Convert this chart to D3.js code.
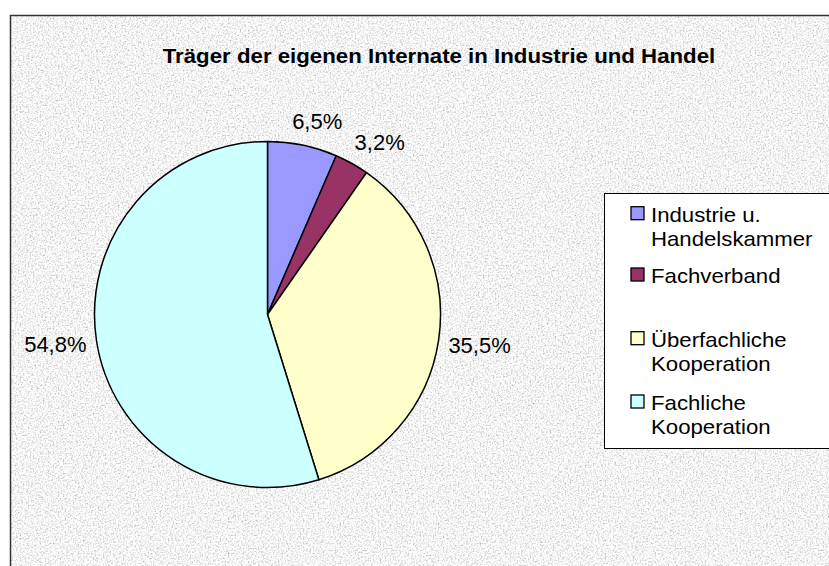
<!DOCTYPE html>
<html lang="de">
<head>
  <meta charset="UTF-8">
  <title>Träger der eigenen Internate</title>
  <script src="https://d3js.org/d3.v7.min.js"></script>
  <style>
    body { margin: 0; background: #fff; }
    svg { display: block; font-family: "Liberation Sans", Arial, sans-serif; }
  </style>
</head>
<body>
  <svg width="829" height="566"></svg>
  <script>
    const categories = ["Industrie u. Handelskammer", "Fachverband", "Überfachliche Kooperation", "Fachliche Kooperation"];
    const values = [6.5, 3.2, 35.5, 54.8];
    const valueLabels = ["6,5%", "3,2%", "35,5%", "54,8%"];
    // legend text lines (as wrapped in the original)
    const legendLines = [["Industrie u.", "Handelskammer"], ["Fachverband"], ["Überfachliche", "Kooperation"], ["Fachliche", "Kooperation"]];
    const colors = ["#9999FF", "#993366", "#FFFFCC", "#CCFFFF"];

    const svg = d3.select("svg");

    // granite-like background
    const defs = svg.append("defs");
    const filt = defs.append("filter").attr("id", "granite")
      .attr("x", 0).attr("y", 0).attr("width", "100%").attr("height", "100%");
    filt.append("feTurbulence")
      .attr("type", "fractalNoise")
      .attr("baseFrequency", "0.6")
      .attr("numOctaves", 3)
      .attr("seed", 4)
      .attr("result", "noise");
    filt.append("feColorMatrix")
      .attr("in", "noise")
      .attr("type", "matrix")
      .attr("values", "1.1 0 0 0 0.36  1.1 0 0 0 0.36  1.1 0 0 0 0.36  0 0 0 0 1");

    const plotX = 10, plotY = 15;
    svg.append("rect")
      .attr("x", plotX).attr("y", plotY)
      .attr("width", 829).attr("height", 566)
      .attr("filter", "url(#granite)");
    svg.append("rect")
      .attr("x", plotX + 0.5).attr("y", plotY + 0.5)
      .attr("width", 829).attr("height", 566)
      .attr("fill", "none")
      .attr("stroke", "#333")
      .attr("stroke-width", 1.5);

    // title (the original is slightly stretched horizontally)
    svg.append("text")
      .attr("transform", "translate(439,62.5) scale(1.06,1)")
      .attr("text-anchor", "middle")
      .attr("font-size", 21)
      .attr("font-weight", "bold")
      .text("Träger der eigenen Internate in Industrie und Handel");

    // pie
    const cx = 267.5, cy = 314.5, r = 173;
    const pie = d3.pie().sort(null).value(d => d);
    const arcs = pie(values);
    const arc = d3.arc().innerRadius(0).outerRadius(r);

    const g = svg.append("g").attr("transform", `translate(${cx},${cy})`);
    g.selectAll("path")
      .data(arcs)
      .join("path")
      .attr("d", arc)
      .attr("fill", (d, i) => colors[i])
      .attr("stroke", "#000")
      .attr("stroke-width", 1.5)
      .attr("stroke-linejoin", "round");

    // percent labels outside the slices
    const labelR = r + 17, halfH = 8;
    g.selectAll("text.pct")
      .data(arcs)
      .join("text")
      .attr("class", "pct")
      .attr("font-size", 22)
      .attr("text-anchor", "middle")
      .attr("dy", "0.36em")
      .text((d, i) => valueLabels[i])
      .each(function(d) {
        const a = (d.startAngle + d.endAngle) / 2;
        const s = Math.sin(a), c = -Math.cos(a);
        const halfW = this.getComputedTextLength() / 2;
        const k = Math.max(-0.78, Math.min(0.78, 2.2 * s));
        d3.select(this)
          .attr("x", labelR * s + halfW * k)
          .attr("y", labelR * c + halfH * c);
      });

    // legend
    const legend = svg.append("g");
    legend.append("rect")
      .attr("x", 604.5).attr("y", 193.5)
      .attr("width", 260).attr("height", 255)
      .attr("fill", "#fff")
      .attr("stroke", "#000")
      .attr("stroke-width", 1);

    const itemBaselines = [221.7, 283, 346.7, 410];
    const lineH = 24;
    legendLines.forEach((lines, i) => {
      legend.append("rect")
        .attr("x", 631).attr("y", itemBaselines[i] - 15)
        .attr("width", 13).attr("height", 13)
        .attr("fill", colors[i])
        .attr("stroke", "#000")
        .attr("stroke-width", 1.3);
      lines.forEach((t, j) => {
        legend.append("text")
          .attr("transform", `translate(651,${itemBaselines[i] + j * lineH}) scale(1.11,1)`)
          .attr("font-size", 20)
          .text(t);
      });
    });
  </script>
</body>
</html>
